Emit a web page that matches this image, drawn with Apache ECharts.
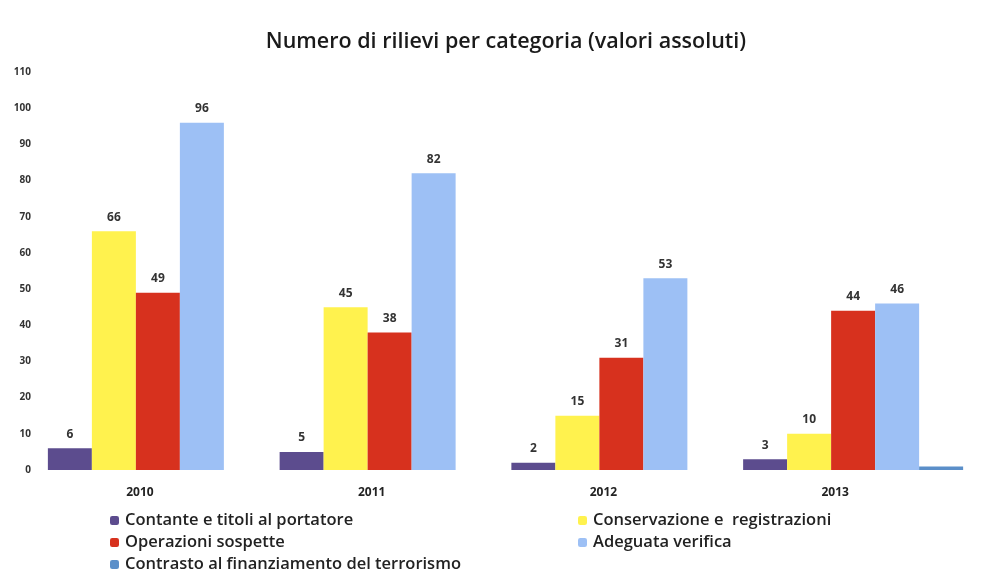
<!DOCTYPE html>
<html>
<head>
<meta charset="utf-8">
<script src="https://cdn.jsdelivr.net/npm/echarts@6/dist/echarts.min.js"></script>
<style>
  html, body { margin: 0; padding: 0; background: #fff; }
  #chart { width: 987px; height: 577px; }
</style>
</head>
<body>
<div id="chart"></div>
<script>
const years = ['2010', '2011', '2012', '2013'];
const contante = [6, 5, 2, 3];
const conservazione = [66, 45, 15, 10];
const operazioni = [49, 38, 31, 44];
const adeguata = [96, 82, 53, 46];
const contrasto = [0, 0, 0, 1];
const yTicks = [0, 10, 20, 30, 40, 50, 60, 70, 80, 90, 100, 110];

const names = [
  'Contante e titoli al portatore',
  'Conservazione e  registrazioni',
  'Operazioni sospette',
  'Adeguata verifica',
  'Contrasto al finanziamento del terrorismo'
];
const colors = ['#5c4c8e', '#fff24e', '#d7311e', '#9dc0f5', '#5b8fc9'];
const values = [contante, conservazione, operazioni, adeguata, contrasto];

const font = 'Open Sans, Liberation Sans, sans-serif';

const legendText = { fontFamily: font, fontSize: 16.5, fontWeight: 600, color: '#222', lineHeight: 16, padding: [0, 0, 0, 1] };

const chart = echarts.init(document.getElementById('chart'));

chart.setOption({
  animation: false,
  color: colors,
  title: {
    text: 'Numero di rilievi per categoria (valori assoluti)',
    left: 501,
    textAlign: 'center',
    top: 26,
    textStyle: { fontFamily: font, fontSize: 21.5, fontWeight: 600, color: '#1a1a1a' }
  },
  legend: [
    {
      orient: 'vertical',
      left: 110,
      top: 512,
      height: 65,
      padding: 0,
      itemWidth: 9,
      itemHeight: 9,
      itemGap: 5,
      data: [names[0], names[2], names[4]],
      textStyle: legendText
    },
    {
      orient: 'vertical',
      left: 578,
      top: 512,
      height: 65,
      padding: 0,
      itemWidth: 9,
      itemHeight: 9,
      itemGap: 5,
      data: [names[1], names[3]],
      textStyle: legendText
    }
  ],
  grid: { left: 42, right: 18, top: 72, bottom: 107 },
  xAxis: {
    type: 'category',
    data: years,
    axisLine: { show: false },
    axisTick: { show: false },
    axisLabel: { fontFamily: font, fontSize: 12, fontWeight: 'bold', color: '#222', margin: 17, padding: [0, 36, 0, 0] }
  },
  yAxis: {
    type: 'value',
    min: yTicks[0],
    max: yTicks[yTicks.length - 1],
    interval: 10,
    axisLine: { show: false },
    axisTick: { show: false },
    splitLine: { show: false },
    axisLabel: { fontFamily: font, fontSize: 10, fontWeight: 'bold', color: '#333', margin: 11 }
  },
  series: names.map((n, i) => ({
    name: n,
    type: 'bar',
    data: values[i],
    barWidth: 44,
    barGap: '0%',
    itemStyle: { color: colors[i] },
    label: {
      show: i !== 4,
      position: 'top',
      distance: 8,
      fontFamily: font,
      fontSize: 12,
      fontWeight: 'bold',
      color: '#333'
    }
  }))
});
</script>
</body>
</html>
